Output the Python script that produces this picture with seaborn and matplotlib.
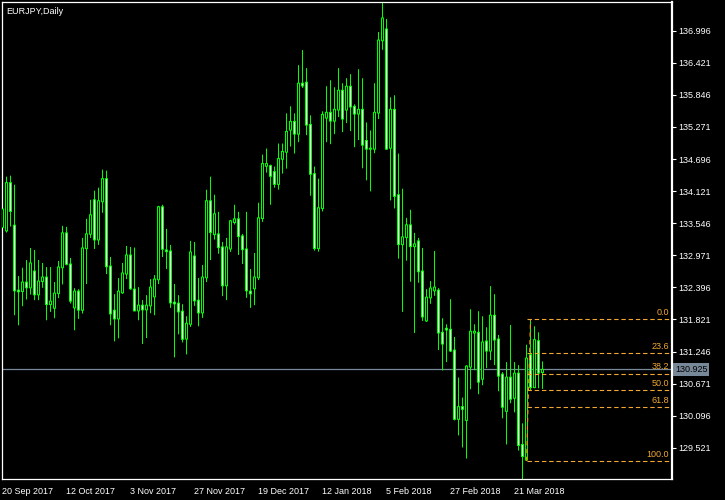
import matplotlib
matplotlib.use('Agg')
import matplotlib.pyplot as plt
import matplotlib.transforms as mtransforms
import seaborn as sns
import pandas as pd

# EURJPY daily candles, 20 Sep 2017 - 30 Mar 2018
opens = [133.468, 133.408, 134.272, 133.510, 132.346, 132.322, 132.490, 132.388, 132.688, 132.262,
         132.502, 132.580, 132.088, 132.022, 132.286, 132.748, 133.372, 132.814, 132.028, 132.328,
         131.986, 133.090, 133.348, 133.966, 133.246, 133.930, 134.344, 132.778, 131.986, 131.830,
         132.298, 132.634, 132.976, 132.364, 131.974,
         132.076, 131.992, 132.064, 132.226, 132.532, 133.840, 133.066, 133.048, 132.130, 132.112,
         131.968, 131.470, 131.734, 132.958, 132.166, 131.938, 132.568, 133.948, 133.342, 133.354,
         133.120, 132.424, 133.084, 133.558, 133.624, 133.318, 133.084, 132.328, 132.370, 132.568,
         133.630, 134.566, 134.578, 134.470, 134.242,
         134.692, 134.818, 135.214, 135.370, 135.142, 136.054, 136.072, 135.316, 134.434, 133.090,
         133.810, 135.430, 135.532, 135.376, 135.574, 135.928, 135.574, 136.000, 135.640, 135.502,
         135.586, 135.028, 134.890, 134.872, 135.520, 136.816, 137.026, 134.890, 135.586, 134.056,
         133.162, 133.288, 133.516, 133.126, 133.228,
         132.688, 131.794, 132.208, 132.334, 132.346, 131.590, 131.662, 131.644, 131.272, 130.030,
         130.258, 130.012, 130.966, 131.578, 131.590, 130.750, 131.434, 131.254, 131.896, 131.470,
         130.840, 130.174, 130.786, 130.408, 130.858, 129.580, 129.300, 131.188, 130.600, 131.440,
         130.870]
highs = [133.840, 134.380, 134.398, 134.236, 132.598, 132.748, 132.886, 133.102, 133.066, 132.886,
         132.832, 132.760, 132.760, 132.490, 132.868, 133.498, 133.480, 132.922, 132.382, 132.364,
         133.282, 133.624, 133.966, 134.128, 134.182, 134.506, 134.488, 132.940, 132.274, 132.562,
         132.832, 133.138, 133.120, 133.108, 132.400,
         132.166, 132.256, 132.544, 132.616, 133.858, 133.876, 133.444, 133.156, 132.454, 132.256,
         132.094, 131.878, 133.228, 133.210, 132.562, 132.796, 134.146, 134.380, 134.056, 133.750,
         133.210, 133.282, 133.606, 133.876, 133.750, 133.354, 133.750, 132.724, 133.012, 133.912,
         134.776, 134.884, 134.596, 134.560, 134.974,
         134.974, 135.514, 135.640, 135.514, 136.378, 136.648, 136.324, 135.478, 134.560, 134.344,
         135.550, 136.000, 136.108, 135.982, 136.324, 136.054, 136.144, 136.216, 135.676, 136.306,
         136.144, 135.352, 135.208, 136.054, 136.972, 137.494, 137.206, 135.802, 135.838, 134.794,
         134.164, 133.642, 133.786, 133.372, 133.282,
         133.102, 132.364, 132.508, 133.048, 132.382, 131.842, 131.734, 132.184, 131.506, 130.780,
         130.420, 131.002, 132.004, 131.734, 131.968, 131.878, 131.680, 132.418, 132.274, 131.542,
         130.876, 131.056, 131.722, 131.056, 131.002, 129.958, 131.368, 131.821, 131.698, 131.590,
         131.068]
lows = [133.432, 133.378, 133.486, 131.896, 131.716, 132.058, 132.178, 132.268, 132.166, 132.166,
        132.388, 131.806, 131.956, 131.842, 132.202, 132.448, 132.790, 132.106, 131.626, 131.830,
        131.926, 132.454, 133.282, 133.084, 133.156, 133.732, 132.634, 131.716, 131.428, 131.482,
        132.280, 132.544, 132.352, 131.968, 131.806,
        131.380, 131.488, 131.932, 131.896, 132.454, 132.940, 132.724, 132.028, 131.140, 131.554,
        131.410, 131.194, 131.686, 132.064, 131.698, 131.848, 132.490, 132.886, 133.252, 132.998,
        132.238, 132.166, 133.030, 133.522, 132.976, 132.814, 132.208, 132.028, 132.076, 132.526,
        133.570, 134.452, 133.876, 134.182, 134.146,
        134.434, 134.524, 134.920, 134.794, 134.998, 135.970, 135.124, 134.038, 133.054, 133.036,
        133.756, 134.998, 134.962, 135.142, 135.448, 135.178, 135.340, 135.196, 134.908, 135.034,
        134.530, 134.314, 134.116, 134.800, 135.412, 136.654, 134.860, 133.954, 133.810, 132.910,
        131.956, 132.874, 132.496, 131.578, 132.478,
        131.794, 131.776, 132.100, 132.244, 131.272, 130.906, 131.056, 131.236, 130.012, 129.742,
        129.526, 129.328, 130.570, 130.912, 130.480, 130.642, 130.948, 131.092, 131.002, 130.534,
        130.048, 129.580, 130.318, 130.156, 129.472, 128.926, 129.283, 130.558, 130.588, 130.588,
        130.576]
closes = [133.798, 134.272, 133.756, 132.334, 132.316, 132.490, 132.388, 132.832, 132.262, 132.508,
          132.580, 132.088, 132.148, 132.292, 132.760, 133.372, 132.808, 132.148, 132.328, 131.986,
          133.102, 133.354, 133.696, 133.246, 133.948, 134.344, 132.766, 131.920, 131.830, 132.328,
          132.652, 132.976, 132.370, 131.974, 132.076,
          131.992, 132.076, 132.400, 132.544, 133.840, 133.078, 133.036, 132.118, 132.100, 131.956,
          131.464, 131.752, 133.030, 132.154, 131.938, 132.580, 133.948, 133.378, 133.714, 133.108,
          132.424, 133.120, 133.588, 133.624, 133.306, 133.072, 132.334, 132.280, 132.580, 133.642,
          134.614, 134.614, 134.386, 134.242, 134.704,
          134.830, 135.190, 135.370, 135.142, 136.054, 136.006, 135.304, 134.422, 133.090, 133.822,
          135.496, 135.532, 135.376, 135.586, 135.928, 135.412, 136.000, 135.628, 135.502, 135.586,
          134.944, 134.872, 134.872, 135.532, 136.828, 137.224, 134.872, 135.586, 134.026, 133.162,
          133.300, 133.516, 133.126, 133.174, 132.676,
          131.866, 132.220, 132.382, 132.400, 131.578, 131.380, 131.632, 131.254, 130.030, 130.258,
          130.210, 130.984, 131.608, 131.608, 130.696, 131.416, 131.254, 131.896, 131.452, 130.804,
          130.246, 130.786, 130.390, 130.858, 129.562, 129.364, 131.128, 130.600, 131.458, 130.858,
          130.925]

date_labels = ['20 Sep 2017', '12 Oct 2017', '3 Nov 2017', '27 Nov 2017', '19 Dec 2017',
               '12 Jan 2018', '5 Feb 2018', '27 Feb 2018', '21 Mar 2018']
price_ticks = [136.996, 136.421, 135.846, 135.271, 134.696, 134.121, 133.546, 132.971,
               132.396, 131.821, 131.246, 130.671, 130.096, 129.521]

# fibonacci retracement drawn from the 26 Mar low to the 27 Mar high
fib_low = 129.283
fib_high = 131.821
fib_levels = [0.0, 23.6, 38.2, 50.0, 61.8, 100.0]

dates = pd.bdate_range('2017-09-20', periods=len(opens), freq='C',
                       holidays=['2017-12-25', '2018-01-01'])
df = pd.DataFrame({'date': dates, 'open': opens, 'high': highs,
                   'low': lows, 'close': closes})
df['x'] = range(len(df))
df['bottom'] = df[['open', 'close']].min(axis=1)
df['height'] = (df['close'] - df['open']).abs()

sns.set_style('dark')
plt.rcParams['font.family'] = ['Liberation Sans', 'DejaVu Sans']

fig = plt.figure(figsize=(7.25, 5), dpi=100, facecolor='black')
# 670 px wide plot area, 4 px per bar
ax = fig.add_axes([2 / 725, 21 / 500, 670 / 725, 477 / 500])
ax.set_facecolor('black')
ax.set_xlim(-0.125, 167.375)
ax.set_ylim(128.961, 137.510)

green = '#00ff00'
# one screen pixel in price units, used to inset the body fill inside its green frame
px = (137.510 - 128.961) / 477

# wicks
ax.vlines(df['x'], df['low'], df['high'], color=green, lw=0.72, zorder=2, snap=False)
# body frame
ax.bar(df['x'], df['height'] + px, bottom=df['bottom'] - px / 2, width=0.75, color=green,
       linewidth=0, zorder=3, snap=False)
# body fill: white for falling days, black for rising days
inner = df[df['height'] > 1.5 * px]
face = ['white' if c < o else 'black' for o, c in zip(inner['open'], inner['close'])]
ax.bar(inner['x'], inner['height'] - px, bottom=inner['bottom'] + px / 2, width=0.25,
       color=face, linewidth=0, zorder=4, snap=False)

# bid line
last = closes[-1]
ax.axhline(last, color='#778899', lw=0.9, zorder=1)

# fibonacci levels
fib_x = df['x'].iloc[-5]
fib_color = '#f0a830'
ax.plot([fib_x, fib_x + 1], [fib_low, fib_high], color='#ff8c00', lw=0.8,
        linestyle=(0, (4, 3)), zorder=5)
trans = mtransforms.blended_transform_factory(ax.transAxes, ax.transData)
fib_prices = [fib_high - (fib_high - fib_low) * lvl / 100 for lvl in fib_levels]
ax.hlines(fib_prices, fib_x, 167.375, colors=fib_color, lw=0.8,
          linestyles=[(0, (4, 2.5))], zorder=5, snap=True)
for lvl, p in zip(fib_levels, fib_prices):
    ax.annotate(f'{lvl:.1f}', xy=(0.996, p), xycoords=trans, xytext=(0, 1.5),
                textcoords='offset points', ha='right', va='bottom',
                color=fib_color, fontsize=6.5)

tick_pos = [df.index[df['date'] == pd.to_datetime(d, format='%d %b %Y')][0] for d in date_labels]
ax.set_xticks(tick_pos)
ax.set_xticklabels(date_labels, ha='left', color='white', fontsize=6.5)
ax.yaxis.tick_right()
ax.set_yticks(price_ticks)
ax.set_yticklabels([f'{t:.3f}' for t in price_ticks], color='white', fontsize=6.5)
ax.tick_params(axis='x', colors='white', length=4, width=0.8, pad=1.5, labelcolor='white')
ax.tick_params(axis='y', colors='white', length=3, width=0.8, pad=1.5, labelcolor='white')
ax.grid(False)
ax.set_xlabel('')
ax.set_ylabel('')
for side in ['left', 'top', 'bottom']:
    ax.spines[side].set_color('white')
    ax.spines[side].set_linewidth(0.9)
ax.spines['right'].set_color('white')
ax.spines['right'].set_linewidth(1.6)

ax.text(1.0045, last, f'{last:.3f}', transform=trans, ha='left', va='center',
        color='black', fontsize=6.5,
        bbox=dict(facecolor='#778899', edgecolor='none', pad=1.2))
ax.text(0.006, 0.99, 'EURJPY,Daily', transform=ax.transAxes, ha='left', va='top',
        color='white', fontsize=6.5)

fig.savefig('out.png', dpi=100, facecolor='black')
